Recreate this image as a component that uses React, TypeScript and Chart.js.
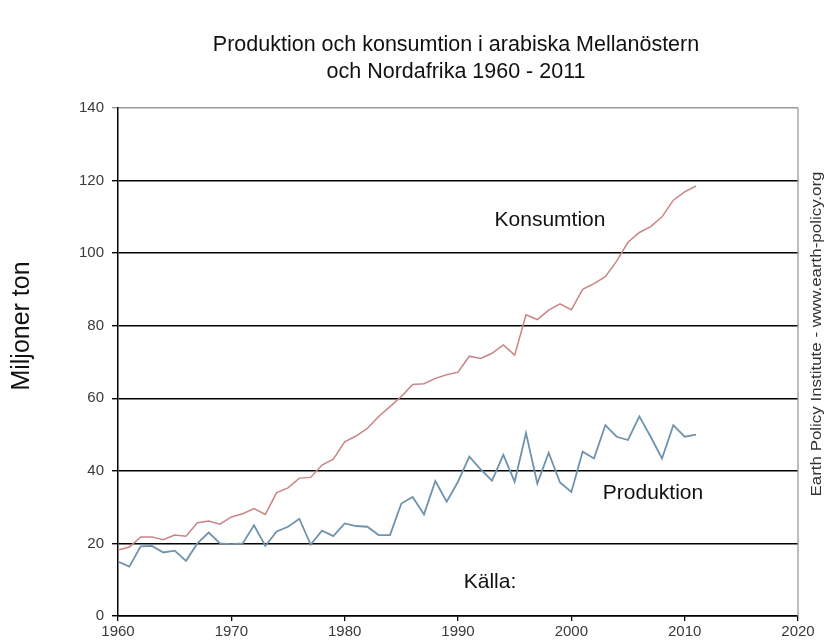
import React, { useEffect, useRef } from "react";
import { Chart, registerables } from "chart.js";

Chart.register(...registerables);

const years: number[] = [
  1960, 1961, 1962, 1963, 1964, 1965, 1966, 1967, 1968, 1969,
  1970, 1971, 1972, 1973, 1974, 1975, 1976, 1977, 1978, 1979,
  1980, 1981, 1982, 1983, 1984, 1985, 1986, 1987, 1988, 1989,
  1990, 1991, 1992, 1993, 1994, 1995, 1996, 1997, 1998, 1999,
  2000, 2001, 2002, 2003, 2004, 2005, 2006, 2007, 2008, 2009,
  2010, 2011,
];

const konsumtion: number[] = [
  18.2, 19, 21.8, 21.8, 21, 22.3, 22, 25.7, 26.2, 25.3,
  27.3, 28.2, 29.6, 28, 34, 35.3, 38, 38.2, 41.6, 43.2,
  48, 49.6, 51.7, 55, 57.7, 60.5, 63.8, 64, 65.5, 66.5,
  67.2, 71.6, 71, 72.4, 74.7, 71.9, 83, 81.7, 84.3, 86,
  84.4, 90, 91.6, 93.5, 97.8, 103, 105.7, 107.3, 110, 114.6,
  116.9, 118.5,
];

const produktion: number[] = [
  15, 13.6, 19.2, 19.3, 17.5, 18, 15.2, 20, 23, 20,
  19.8, 20, 25, 19.3, 23.3, 24.6, 26.8, 19.7, 23.5, 22,
  25.5, 24.8, 24.6, 22.3, 22.3, 31, 32.8, 28, 37.2, 31.5,
  37, 43.9, 40.4, 37.3, 44.4, 37, 50.4, 36.5, 45, 36.8,
  34.2, 45.3, 43.4, 52.6, 49.4, 48.5, 55, 49.4, 43.4, 52.6,
  49.4, 50,
];

const xTicks: number[] = [1960, 1970, 1980, 1990, 2000, 2010, 2020];
const yTicks: number[] = [0, 20, 40, 60, 80, 100, 120, 140];

const titleLines: string[] = [
  "Produktion och konsumtion i arabiska Mellanöstern",
  "och Nordafrika 1960 - 2011",
];
const yLabel = "Miljoner ton";
const sourceText = "Earth Policy Institute - www.earth-policy.org";
const labelKonsumtion = "Konsumtion";
const labelProduktion = "Produktion";
const labelKalla = "Källa:";

const FONT = "'Liberation Sans', Arial, sans-serif";

const textPlugin = {
  id: "textPlugin",
  afterDraw(chart: any) {
    const ctx = chart.ctx as CanvasRenderingContext2D;
    const area = chart.chartArea;
    ctx.save();
    // right border
    ctx.strokeStyle = "#9a9a9a";
    ctx.lineWidth = 1.3;
    ctx.beginPath();
    ctx.moveTo(area.right, area.top);
    ctx.lineTo(area.right, area.bottom);
    ctx.stroke();

    ctx.fillStyle = "#111";
    ctx.textAlign = "center";
    ctx.textBaseline = "middle";
    ctx.font = `21.5px ${FONT}`;
    ctx.fillText(titleLines[0], 456, 45);
    ctx.fillText(titleLines[1], 456, 72);

    // y label
    ctx.save();
    ctx.translate(22, 326);
    ctx.rotate(-Math.PI / 2);
    ctx.font = `25px ${FONT}`;
    ctx.fillText(yLabel, 0, 0);
    ctx.restore();

    // source text on right
    ctx.save();
    ctx.translate(817, 334);
    ctx.rotate(-Math.PI / 2);
    ctx.font = `14px ${FONT}`;
    const w = ctx.measureText(sourceText).width;
    ctx.scale(325 / w, 1);
    ctx.fillStyle = "#333";
    ctx.fillText(sourceText, 0, 0);
    ctx.restore();

    // annotations
    ctx.font = `21px ${FONT}`;
    ctx.fillStyle = "#111";
    ctx.fillText(labelKonsumtion, 550, 220);
    ctx.fillText(labelProduktion, 653, 493);
    ctx.fillText(labelKalla, 490, 582);
    ctx.restore();
  },
};

export default function App() {
  const ref = useRef<HTMLCanvasElement | null>(null);
  useEffect(() => {
    document.body.style.margin = "0";
    const canvas = ref.current;
    if (!canvas) return;
    const chart = new Chart(canvas, {
      type: "line",
      data: {
        datasets: [
          {
            label: labelKonsumtion,
            data: years.map((y, i) => ({ x: y, y: konsumtion[i] })),
            borderColor: "#c98585",
            borderWidth: 1.5,
            pointRadius: 0,
            tension: 0,
            fill: false,
          },
          {
            label: labelProduktion,
            data: years.map((y, i) => ({ x: y, y: produktion[i] })),
            borderColor: "#6f93ad",
            borderWidth: 1.8,
            pointRadius: 0,
            tension: 0,
            fill: false,
          },
        ],
      },
      options: {
        animation: false,
        responsive: false,
        maintainAspectRatio: false,
        layout: { padding: { left: 0, right: 26, top: 108, bottom: 0 } },
        plugins: {
          legend: { display: false },
          title: { display: false },
          tooltip: { enabled: false },
        },
        scales: {
          x: {
            type: "linear",
            min: 1960,
            max: 2020,
            afterFit: (s: any) => {
              s.height = 27;
            },
            afterBuildTicks: (s: any) => {
              s.ticks = xTicks.map((v) => ({ value: v }));
            },
            border: { color: "#000", width: 1.5 },
            grid: {
              drawOnChartArea: false,
              drawTicks: true,
              tickLength: 5,
              color: "#000",
              lineWidth: 1.3,
            },
            ticks: {
              padding: 2,
              color: "#3a3a3a",
              font: { family: FONT, size: 15 },
              maxRotation: 0,
              callback: (v: any) => String(v),
            },
          },
          y: {
            type: "linear",
            min: 0,
            max: 140,
            afterFit: (s: any) => {
              s.width = 118;
            },
            afterBuildTicks: (s: any) => {
              s.ticks = yTicks.map((v) => ({ value: v }));
            },
            border: { color: "#000", width: 1.5 },
            grid: {
              drawOnChartArea: true,
              drawTicks: true,
              tickLength: 6,
              color: (c: any) => (c.tick && c.tick.value === 140 ? "#9a9a9a" : "#000"),
              lineWidth: 1.4,
            },
            ticks: {
              padding: 8,
              color: "#3a3a3a",
              font: { family: FONT, size: 15 },
              callback: (v: any) => String(v),
            },
          },
        },
      },
      plugins: [textPlugin],
    });
    return () => chart.destroy();
  }, []);
  return (
    <div style={{ position: "relative", width: 824, height: 643 }}>
      <canvas ref={ref} width={824} height={643} style={{ display: "block" }} />
    </div>
  );
}
